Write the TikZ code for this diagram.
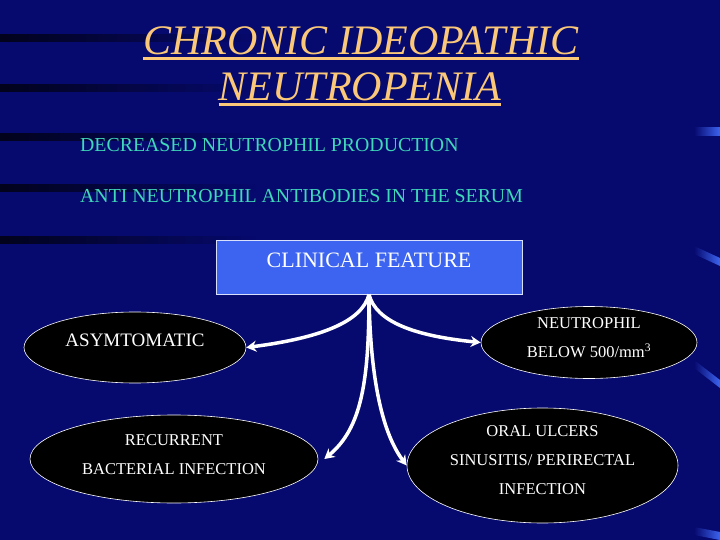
\documentclass[tikz,border=0pt]{standalone}
\usepackage{fontspec}
\setmainfont{Liberation Serif}
\usetikzlibrary{shapes.geometric,arrows.meta}
\definecolor{slidebg}{HTML}{06096E}
\definecolor{titlegold}{HTML}{FAC878}
\definecolor{pointaqua}{HTML}{3FD8B8}
\definecolor{boxblue}{HTML}{3C64F0}
\tikzstyle{title} = [inner sep=0pt, anchor=base, text=titlegold,
font=\fontsize{42}{48}\selectfont\itshape]
\tikzstyle{point} = [inner sep=0pt, anchor=base west, text=pointaqua,
font=\fontsize{19.8}{24}\selectfont]
\tikzstyle{feature} = [rectangle, minimum width=306pt, text height=27pt,
text depth=27pt, inner ysep=0pt, draw=white!80!boxblue, line width=0.8pt,
fill=boxblue, text=white, font=\fontsize{22}{26}\selectfont]
\tikzstyle{symptom} = [ellipse, inner sep=0pt, align=center, draw=white,
line width=0.6pt, fill=black, text=white, font=\fontsize{16.5}{29}\selectfont]
\tikzstyle{arrow} = [line width=3.5pt, white, ->, >={Stealth[length=10pt,width=11pt]}]

\begin{document}
\begin{tikzpicture}[x=1pt, y=-1pt]
              \fill [slidebg] (0,0) rectangle (720,540);
              \useasboundingbox (0,0) rectangle (720,540);
              \foreach \y in {38,88,137,188,240}
                \shade [left color=black!75!slidebg, right color=slidebg] (0,{\y-3.5}) rectangle (260,{\y+3.5});
              \foreach \ya/\yb in {132/132,250/262,364/384,531/536}
                \shade [left color=slidebg, right color=boxblue] (694,{\ya-4}) -- (720,{\yb-4}) -- (720,{\yb+4}) -- (694,{\ya+4}) -- cycle;

              \node (title1) [title] at (361,55) {CHRONIC IDEOPATHIC};
              \node (title2) [title] at (360,101) {NEUTROPENIA};
              \draw [titlegold, line width=3pt] ([yshift=-3.5pt]title1.base west) -- ([yshift=-3.5pt]title1.base east);
              \draw [titlegold, line width=3pt] ([yshift=-3.5pt]title2.base west) -- ([yshift=-3.5pt]title2.base east);

              \node (prod) [point] at (80,152) {DECREASED NEUTROPHIL PRODUCTION};
              \node (anti) [point] at (80,203) {ANTI NEUTROPHIL ANTIBODIES IN THE SERUM};

              \node (feature) [feature] at (369,267) {CLINICAL FEATURE};

              \node (asym) [symptom, minimum width=222pt, minimum height=71pt,
              text depth=15pt, font=\fontsize{19}{22}\selectfont] at (135,347.5) {ASYMTOMATIC};
              \node (neutro) [symptom, minimum width=216pt, minimum height=72pt,
              text depth=10pt] at (589,342.5) {NEUTROPHIL\\BELOW 500/mm\textsuperscript{3}};
              \node (rec) [symptom, minimum width=288pt, minimum height=88pt,
              text depth=9pt] at (174,459) {RECURRENT\\BACTERIAL INFECTION};
              \node (oral) [symptom, minimum width=271pt, minimum height=115pt,
              text depth=10pt] at (542.5,465.5) {ORAL ULCERS\\SINUSITIS/ PERIRECTAL\\INFECTION};

              \draw [arrow] (feature.south) .. controls (362,322) and (320,338) .. (asym.east);
              \draw [arrow] (feature.south) .. controls (376,322) and (415,336) .. (neutro.west);
              \draw [arrow] (feature.south) .. controls (369,380) and (362,428) .. ([xshift=6pt]rec.east);
              \draw [arrow] (feature.south) .. controls (370,370) and (380,430) .. (oral.west);
            \end{tikzpicture}
\end{document}
